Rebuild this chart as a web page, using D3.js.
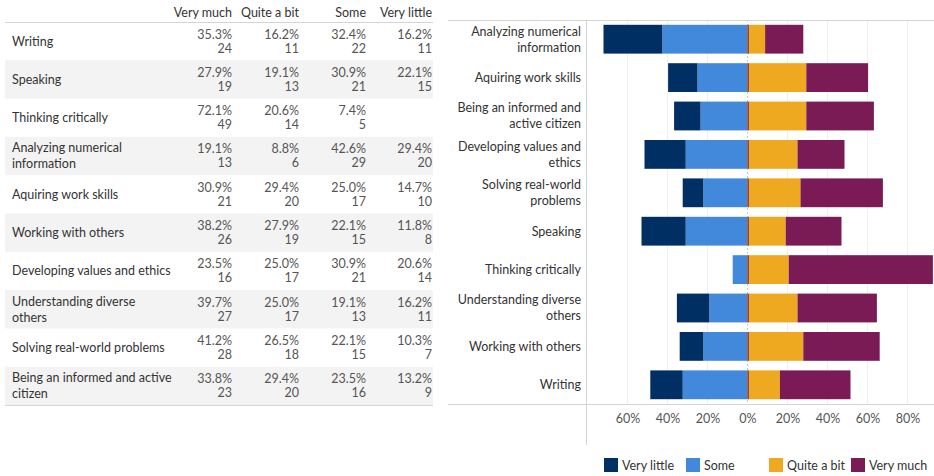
<!DOCTYPE html>
<html>
<head>
<meta charset="utf-8">
<script src="https://cdn.jsdelivr.net/npm/d3@7"></script>
<style>
  body { margin: 0; background: #fff; }
  svg { display: block; font-family: Lato, "Open Sans", sans-serif; }
</style>
</head>
<body>
<svg id="chart" width="934" height="476"></svg>
<script>
// table order (rows as listed in the left table)
var skills = ["Writing", "Speaking", "Thinking critically", "Analyzing numerical information",
  "Aquiring work skills", "Working with others", "Developing values and ethics",
  "Understanding diverse others", "Solving real-world problems", "Being an informed and active citizen"]
var levels = ["Very much", "Quite a bit", "Some", "Very little"]

var pctVeryMuch = [35.3, 27.9, 72.1, 19.1, 30.9, 38.2, 23.5, 39.7, 41.2, 33.8]
var pctQuiteABit = [16.2, 19.1, 20.6, 8.8, 29.4, 27.9, 25.0, 25.0, 26.5, 29.4]
var pctSome = [32.4, 30.9, 7.4, 42.6, 25.0, 22.1, 30.9, 19.1, 22.1, 23.5]
var pctVeryLittle = [16.2, 22.1, null, 29.4, 14.7, 11.8, 20.6, 16.2, 10.3, 13.2]

var nVeryMuch = [24, 19, 49, 13, 21, 26, 16, 27, 28, 23]
var nQuiteABit = [11, 13, 14, 6, 20, 19, 17, 17, 18, 20]
var nSome = [22, 21, 5, 29, 17, 15, 21, 13, 15, 16]
var nVeryLittle = [11, 15, null, 20, 10, 8, 14, 11, 7, 9]

// wrapped labels used on the chart axis
var chartLabels = {
  "Analyzing numerical information": ["Analyzing numerical", "information"],
  "Being an informed and active citizen": ["Being an informed and", "active citizen"],
  "Developing values and ethics": ["Developing values and", "ethics"],
  "Solving real-world problems": ["Solving real-world", "problems"],
  "Understanding diverse others": ["Understanding diverse", "others"]
}
var tableLabels = {
  "Analyzing numerical information": ["Analyzing numerical", "information"],
  "Understanding diverse others": ["Understanding diverse", "others"],
  "Being an informed and active citizen": ["Being an informed and active", "citizen"]
}
var xTicks = [-0.6, -0.4, -0.2, 0, 0.2, 0.4, 0.6, 0.8]
var colors = { "Very little": "#002f63", "Some": "#4289dc", "Quite a bit": "#efa920", "Very much": "#7b1b56" }
var legendOrder = ["Very little", "Some", "Quite a bit", "Very much"]

var rows = skills.map((s, i) => ({
  name: s,
  pct: [pctVeryMuch[i], pctQuiteABit[i], pctSome[i], pctVeryLittle[i]],
  n: [nVeryMuch[i], nQuiteABit[i], nSome[i], nVeryLittle[i]]
}))

var svg = d3.select("#chart")
var textDark = "#333", textGray = "#555", lineCol = "#d4d4d4"

//--------- Table
var tY = d3.scaleBand().domain(skills).range([22, 405])
var colRight = d3.scaleOrdinal().domain(levels).range([232, 299, 366, 432])
var table = svg.append("g")

table.selectAll(".band").data(rows.filter((d, i) => i % 2 == 1)).join("rect").attr("class", "band")
  .attr("x", 5).attr("width", 428).attr("y", d => tY(d.name)).attr("height", tY.bandwidth()).attr("fill", "#f3f3f3")

table.selectAll(".hdr").data(levels).join("text").attr("class", "hdr")
  .attr("x", d => colRight(d)).attr("y", 13).attr("dy", "0.35em").attr("text-anchor", "end")
  .attr("font-size", 12.5).attr("fill", textDark).text(d => d)

table.append("line").attr("x1", 5).attr("x2", 433).attr("y1", 22.5).attr("y2", 22.5).attr("stroke", lineCol)
table.append("line").attr("x1", 5).attr("x2", 433).attr("y1", 405.5).attr("y2", 405.5).attr("stroke", lineCol)

var tRow = table.selectAll(".trow").data(rows).join("g").attr("class", "trow")
  .attr("transform", d => "translate(0," + (tY(d.name) + tY.bandwidth() / 2) + ")")

tRow.each(function (d) {
  var g = d3.select(this)
  var lines = tableLabels[d.name] || [d.name]
  lines.forEach((l, k) => {
    g.append("text").attr("x", 12).attr("y", lines.length == 1 ? 0 : (k == 0 ? -8 : 8)).attr("dy", "0.35em")
      .attr("font-size", 12.5).attr("fill", textDark).text(l)
  })
  levels.forEach((lv, j) => {
    if (d.pct[j] == null) return
    g.append("text").attr("x", colRight(lv)).attr("y", -7).attr("dy", "0.35em").attr("text-anchor", "end")
      .attr("font-size", 12.5).attr("fill", textGray).text(d3.format(".1f")(d.pct[j]) + "%")
    g.append("text").attr("x", colRight(lv)).attr("y", 7).attr("dy", "0.35em").attr("text-anchor", "end")
      .attr("font-size", 12.5).attr("fill", textGray).text(d.n[j])
  })
})

//--------- Diverging bar chart
var chartRows = rows.slice().sort((a, b) => d3.ascending(a.name, b.name))
var x = d3.scaleLinear().domain([-0.8, 0.93]).range([587.5, 933.5])
var y = d3.scaleBand().domain(chartRows.map(d => d.name)).range([20, 404]).paddingInner(0.25).paddingOuter(0.125)
var cy = d => y(d) + y.bandwidth() / 2

var chart = svg.append("g")
chart.selectAll(".grid").data(xTicks.filter(t => t != 0)).join("line").attr("class", "grid")
  .attr("x1", d => x(d)).attr("x2", d => x(d)).attr("y1", 20).attr("y2", 404).attr("stroke", "#efefef")
chart.append("line").attr("x1", x(0)).attr("x2", x(0)).attr("y1", 20).attr("y2", 404)
  .attr("stroke", "#c8c8c8").attr("stroke-dasharray", "2,2")

var segs = []
chartRows.forEach(d => {
  var vm = d.pct[0] / 100, qb = d.pct[1] / 100, so = d.pct[2] / 100, vl = (d.pct[3] || 0) / 100
  segs.push({ name: d.name, key: "Some", x0: -so, x1: 0 })
  segs.push({ name: d.name, key: "Very little", x0: -so - vl, x1: -so })
  segs.push({ name: d.name, key: "Quite a bit", x0: 0, x1: qb })
  segs.push({ name: d.name, key: "Very much", x0: qb, x1: qb + vm })
})
chart.selectAll(".seg").data(segs.filter(s => s.x1 > s.x0)).join("rect").attr("class", "seg")
  .attr("x", d => x(d.x0)).attr("width", d => x(d.x1) - x(d.x0))
  .attr("y", d => y(d.name)).attr("height", y.bandwidth()).attr("fill", d => colors[d.key])
chart.selectAll(".zero").data(chartRows).join("rect").attr("class", "zero")
  .attr("x", x(0)).attr("width", 1.2).attr("y", d => y(d.name)).attr("height", y.bandwidth())
  .attr("fill", colors["Very much"])

// frame lines
chart.append("line").attr("x1", 448).attr("x2", 934).attr("y1", 20.5).attr("y2", 20.5).attr("stroke", lineCol)
chart.append("line").attr("x1", 448).attr("x2", 934).attr("y1", 404.5).attr("y2", 404.5).attr("stroke", lineCol)
chart.append("line").attr("x1", 586.5).attr("x2", 586.5).attr("y1", 20).attr("y2", 445).attr("stroke", lineCol)

// y labels
var yl = chart.selectAll(".ylab").data(chartRows).join("g").attr("class", "ylab")
  .attr("transform", d => "translate(581," + cy(d.name) + ")")
yl.each(function (d) {
  var lines = chartLabels[d.name] || [d.name]
  lines.forEach((l, k) => {
    d3.select(this).append("text").attr("x", 0).attr("y", lines.length == 1 ? 0 : (k == 0 ? -8 : 8))
      .attr("dy", "0.35em").attr("text-anchor", "end").attr("font-size", 12.5).attr("fill", textDark).text(l)
  })
})

// x axis
var xAxis = chart.append("g").attr("transform", "translate(0,404)")
  .call(d3.axisBottom(x).tickValues(xTicks).tickSize(0).tickPadding(10).tickFormat(d => Math.round(Math.abs(d) * 100) + "%"))
xAxis.select(".domain").remove()
xAxis.selectAll("text").attr("font-size", 12.5).attr("fill", textGray).attr("font-family", "Lato, sans-serif")

// legend
var legX = [604, 686, 769, 851]
var leg = svg.append("g").selectAll("g").data(legendOrder).join("g")
  .attr("transform", (d, i) => "translate(" + legX[i] + ",458)")
leg.append("rect").attr("width", 14).attr("height", 14).attr("fill", d => colors[d])
leg.append("text").attr("x", 18).attr("y", 7.5).attr("dy", "0.35em").attr("font-size", 12.5).attr("fill", textDark).text(d => d)
</script>
</body>
</html>
